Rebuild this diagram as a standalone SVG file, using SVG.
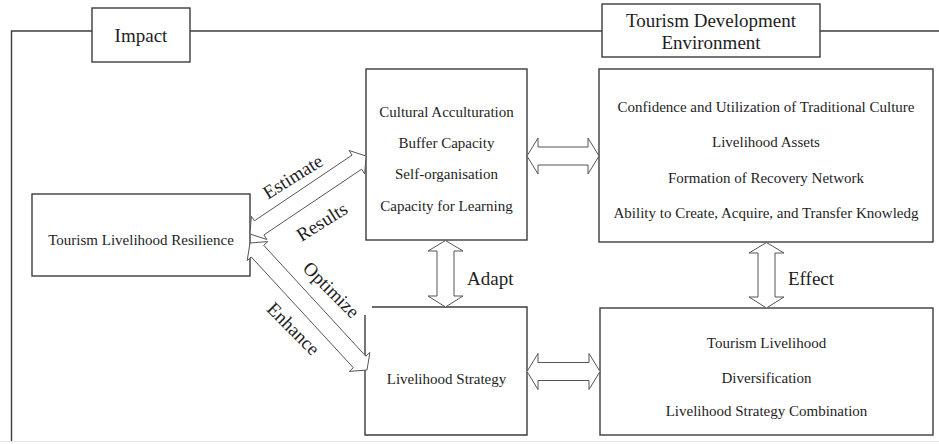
<svg xmlns="http://www.w3.org/2000/svg" width="939" height="444" viewBox="0 0 939 444">
<style>
.frame{fill:none;stroke:#3c3c3c;stroke-width:1.4}
.box{fill:#fff;stroke:#3c3c3c;stroke-width:1.4}
.fill{fill:#fff;stroke:none}
.arr{fill:#fff;stroke:#555;stroke-width:1}
text{font-family:"Liberation Serif","Times New Roman",serif;fill:#1e1e1e}
.t{font-size:15px;text-anchor:middle}
.h{font-size:19px;text-anchor:middle}
.l{font-size:19px}
.lc{font-size:19px;text-anchor:middle}
</style>
<rect width="939" height="444" fill="#fff"/>
<g id="frame">
<path class="frame" d="M11.5,442 V31 H939"/>
<line x1="0" y1="441.5" x2="939" y2="441.5" stroke="#dfe6e8" stroke-width="1"/>
</g>
<g id="impact">
<rect class="box" x="92" y="8" width="98" height="54"/>
<text class="h" x="141" y="41.5">Impact</text>
</g>
<g id="tourism-development-environment">
<rect class="box" x="602" y="4" width="218" height="53"/>
<text class="h" x="711" y="26.5">Tourism Development</text>
<text class="h" x="711" y="48.5">Environment</text>
</g>
<g id="tourism-livelihood-resilience">
<rect class="box" x="32" y="194" width="218" height="82"/>
<text class="t" x="141" y="245">Tourism Livelihood Resilience</text>
</g>
<g id="resilience-capacities">
<rect class="box" x="366" y="69" width="161" height="171"/>
<text class="t" x="446.5" y="116.5">Cultural Acculturation</text>
<text class="t" x="446.5" y="148">Buffer Capacity</text>
<text class="t" x="446.5" y="179">Self-organisation</text>
<text class="t" x="446.5" y="210.5">Capacity for Learning</text>
</g>
<g id="environment-factors">
<rect class="box" x="599" y="69" width="334" height="173"/>
<text class="t" x="766" y="111.5">Confidence and Utilization of Traditional Culture</text>
<text class="t" x="766" y="147">Livelihood Assets</text>
<text class="t" x="766" y="182.5">Formation of Recovery Network</text>
<text class="t" x="766" y="218">Ability to Create, Acquire, and Transfer Knowledg</text>
</g>
<g id="livelihood-strategy">
<rect class="fill" x="365" y="307" width="162" height="128"/>
<path class="frame" d="M372,307 H527 V435 H365 V315"/>
<text class="t" x="446.5" y="384">Livelihood Strategy</text>
</g>
<g id="livelihood-outcomes">
<rect class="box" x="600" y="308" width="333" height="127"/>
<text class="t" x="766.5" y="348">Tourism Livelihood</text>
<text class="t" x="766.5" y="382.5">Diversification</text>
<text class="t" x="766.5" y="416">Livelihood Strategy Combination</text>
</g>
<g id="connectors">
<polygon class="arr" points="527,156 538,138 538,147 588,147 588,138 599,156 588,174 588,165 538,165 538,174"/>
<polygon class="arr" points="527,371.5 538,353.5 538,362.5 589,362.5 589,353.5 600,371.5 589,389.5 589,380.5 538,380.5 538,389.5"/>
<polygon class="arr" points="445.5,240.5 463,251 454,251 454,296 463,296 445.5,307 428,296 437,296 437,251 428,251"/>
<polygon class="arr" points="766.5,242.5 784,253 775,253 775,297 784,297 766.5,308 749,297 758,297 758,253 749,253"/>
<polygon class="arr" points="250,234 251.3,216.2 254.4,220.8 352.1,155.1 349.1,150.5 366,156 364.7,173.8 361.6,169.2 263.9,234.9 266.9,239.5"/>
<polygon class="arr" points="250,243 267.8,241.6 263.7,245.3 365.8,356.2 369.9,352.4 367,370 349.3,371.4 353.3,367.7 251.2,256.9 247.2,260.6"/>
<text class="lc" transform="translate(293,177) rotate(-32)" y="6">Estimate</text>
<text class="lc" transform="translate(322,222) rotate(-32)" y="6">Results</text>
<text class="lc" transform="translate(331,290) rotate(45)" y="6">Optimize</text>
<text class="lc" transform="translate(293,329) rotate(45)" y="6">Enhance</text>
<text class="l" x="467" y="285">Adapt</text>
<text class="l" x="788" y="285">Effect</text>
</g>
</svg>
